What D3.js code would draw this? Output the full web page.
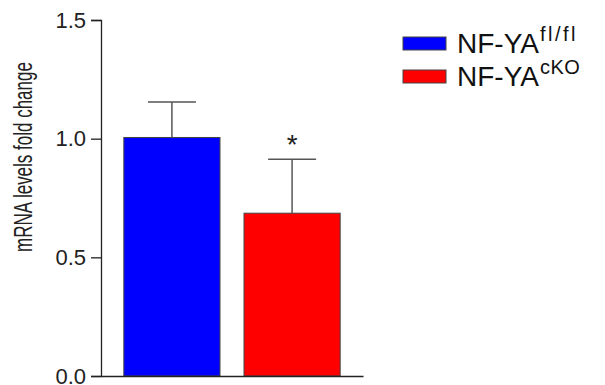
<!DOCTYPE html>
<html>
<head>
<meta charset="utf-8">
<script src="https://cdn.jsdelivr.net/npm/d3@7"></script>
<style>
  body { margin: 0; background: #fff; }
  text { font-family: Arial, "Liberation Sans", sans-serif; }
</style>
</head>
<body>
<svg></svg>
<script>
// groups shown as bars
let groups = ['NF-YAfl/fl', 'NF-YAcKO']
let legendMain = ['NF-YA', 'NF-YA']
let legendSup = ['fl/fl', 'cKO']
// mean fold change and upper error (SEM)
let means = [1.005, 0.686]
let errors = [0.15, 0.227]
let colors = ['#0000ff', '#ff0000']
let yTicks = [0.0, 0.5, 1.0, 1.5]
let signif = ['', '*']

let width = 605
let height = 385

let svg = d3.select('svg')
    .attr('width', width)
    .attr('height', height)

// the plot area
let yScale = d3.scaleLinear()
    .domain([0, 1.5])
    .range([376, 20])

let xScale = d3.scaleBand()
    .domain(groups)
    .range([101, 363])
    .paddingInner(0.2)
    .paddingOuter(0.19)

// bars
svg.selectAll('rect.bar')
    .data(groups)
    .enter()
    .append('rect')
    .attr('class', 'bar')
    .attr('x', (d) => xScale(d))
    .attr('width', xScale.bandwidth())
    .attr('y', (d, i) => yScale(means[i]))
    .attr('height', (d, i) => yScale(0) - yScale(means[i]))
    .attr('fill', (d, i) => colors[i])
    .attr('stroke', '#444')
    .attr('stroke-width', 1)

// error bars, upper only
let errG = svg.selectAll('g.err')
    .data(groups)
    .enter()
    .append('g')
    .attr('class', 'err')
    .attr('stroke', '#555')
    .attr('stroke-width', 1.5)

errG.append('line')
    .attr('x1', (d) => xScale(d) + xScale.bandwidth() / 2)
    .attr('x2', (d) => xScale(d) + xScale.bandwidth() / 2)
    .attr('y1', (d, i) => yScale(means[i]))
    .attr('y2', (d, i) => yScale(means[i] + errors[i]))

errG.append('line')
    .attr('x1', (d) => xScale(d) + xScale.bandwidth() / 2 - 24)
    .attr('x2', (d) => xScale(d) + xScale.bandwidth() / 2 + 24)
    .attr('y1', (d, i) => yScale(means[i] + errors[i]))
    .attr('y2', (d, i) => yScale(means[i] + errors[i]))

// significance star
svg.selectAll('text.star')
    .data(groups)
    .enter()
    .append('text')
    .attr('class', 'star')
    .attr('x', (d) => xScale(d) + xScale.bandwidth() / 2)
    .attr('y', (d, i) => yScale(means[i] + errors[i]) - 5)
    .attr('text-anchor', 'middle')
    .attr('font-size', 28)
    .attr('fill', '#222')
    .text((d, i) => signif[i])

// axes
let yAxis = d3.axisLeft(yScale)
    .tickValues(yTicks)
    .tickFormat(d3.format('.1f'))
    .tickSize(10)
    .tickPadding(5)

svg.append('g')
    .attr('transform', 'translate(101,0)')
    .call(yAxis)
    .call((g) => g.selectAll('text').attr('font-size', 22).attr('fill', '#222').attr('dy', '0.33em'))
    .call((g) => g.selectAll('line, path').attr('stroke', '#222').attr('stroke-width', 1.3))

let xAxis = d3.axisBottom(xScale).tickSize(0).tickFormat('')
svg.append('g')
    .attr('transform', 'translate(0,376)')
    .call(xAxis)
    .call((g) => g.select('path').attr('stroke', '#222').attr('stroke-width', 1.3))

// y title (glyphs taller than wide, like the source)
svg.append('text')
    .attr('transform', 'translate(31.5,157) rotate(-90) scale(1,1.5)')
    .attr('text-anchor', 'middle')
    .attr('font-size', 17)
    .attr('fill', '#222')
    .text('mRNA levels fold change')

// legend
let legend = svg.selectAll('g.legend')
    .data(groups)
    .enter()
    .append('g')
    .attr('class', 'legend')
    .attr('transform', (d, i) => 'translate(403,' + (37 + i * 33) + ')')

legend.append('rect')
    .attr('width', 43)
    .attr('height', 13)
    .attr('fill', (d, i) => colors[i])
    .attr('stroke', '#444')
    .attr('stroke-width', 1)

let ltext = legend.append('text')
    .attr('x', 54)
    .attr('y', 16)
    .attr('font-size', 28)
    .attr('fill', '#111')

ltext.append('tspan').text((d, i) => legendMain[i])
ltext.append('tspan')
    .attr('font-size', 20)
    .attr('dy', -12)
    .attr('dx', 1)
    .attr('letter-spacing', (d, i) => legendSup[i].includes('/') ? 2.5 : 0.5)
    .text((d, i) => legendSup[i])
</script>
</body>
</html>
